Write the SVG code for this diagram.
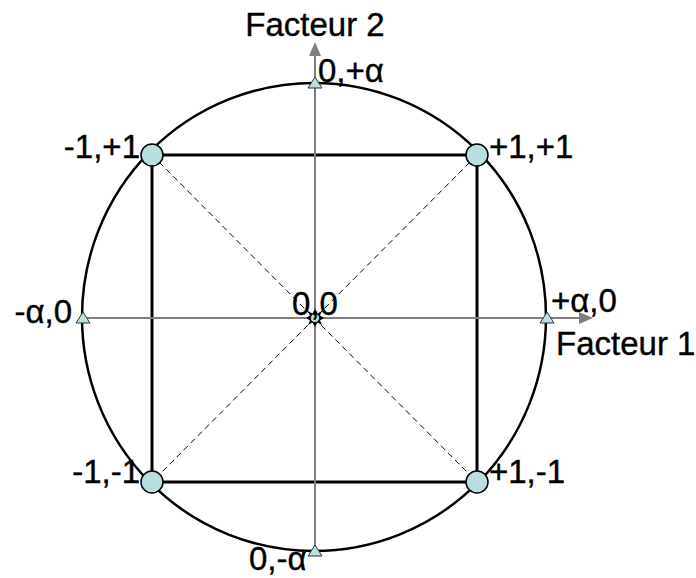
<svg xmlns="http://www.w3.org/2000/svg" width="696" height="578" viewBox="0 0 696 578">
<style>
text{font-family:"Liberation Sans",Arial,sans-serif;font-size:33px;fill:#000;stroke:#000;stroke-width:0.4}
.ax{stroke:#7f7f7f;stroke-width:2;fill:none}
.dg{stroke:#000;stroke-width:1;stroke-dasharray:6,4;fill:none}
.pt{fill:#b9dfe0;stroke:#000;stroke-width:1.5}
.tr{fill:#b9dfe0;stroke:#333;stroke-width:1}
</style>
<rect width="696" height="578" fill="#fff"/>
<g id="circle"><ellipse cx="314" cy="317" rx="232" ry="234" fill="none" stroke="#000" stroke-width="2.5"/></g>
<g id="connectors">
<line class="dg" x1="152" y1="155" x2="477" y2="482"/>
<line class="dg" x1="477" y1="155" x2="152" y2="482"/>
<rect x="152" y="155" width="325" height="327" fill="none" stroke="#000" stroke-width="3"/>
<line class="ax" x1="315" y1="551" x2="315" y2="55"/>
<path d="M315,42 L321,56 L309,56 z" fill="#7f7f7f"/>
<line class="ax" x1="83" y1="318" x2="580" y2="318"/>
<path d="M593,318 L579,312 L579,324 z" fill="#7f7f7f"/>
</g>
<g id="n-mm"><circle class="pt" cx="152" cy="482" r="11"/><text x="140" y="483" text-anchor="end">-1,-1</text></g>
<g id="n-pm"><circle class="pt" cx="477" cy="482" r="11"/><text x="489" y="483">+1,-1</text></g>
<g id="n-mp"><circle class="pt" cx="152" cy="155" r="11"/><text x="140" y="158" text-anchor="end">-1,+1</text></g>
<g id="n-pp"><circle class="pt" cx="477" cy="155" r="11"/><text x="489" y="158">+1,+1</text></g>
<g id="n-top"><path class="tr" d="M315,77 L322,88 L308,88 z"/><text x="318" y="82">0,+α</text></g>
<g id="n-bot"><path class="tr" d="M315,545 L322,556 L308,556 z"/><text x="249" y="570">0,-α</text></g>
<g id="n-left"><path class="tr" d="M83,312 L90,323 L76,323 z"/><text x="72" y="323" text-anchor="end">-α,0</text></g>
<g id="n-right"><path class="tr" d="M547,312 L554,323 L540,323 z"/><text x="551" y="312">+α,0</text></g>
<g id="n-center">
<path d="M315,309 L317.5,313.5 L322,311 L320,315.5 L324,318 L320,320.5 L322,325 L317.5,322.5 L315,327 L312.5,322.5 L308,325 L310,320.5 L306,318 L310,315.5 L308,311 L312.5,313.5 z" fill="#000"/>
<circle cx="315" cy="318" r="4.5" fill="#b9dfe0" stroke="#000" stroke-width="0.8"/>
<text x="315" y="315" text-anchor="middle">0,0</text>
</g>
<g id="labels">
<text x="315" y="36" text-anchor="middle">Facteur 2</text>
<text x="556" y="355">Facteur 1</text>
</g>
</svg>
